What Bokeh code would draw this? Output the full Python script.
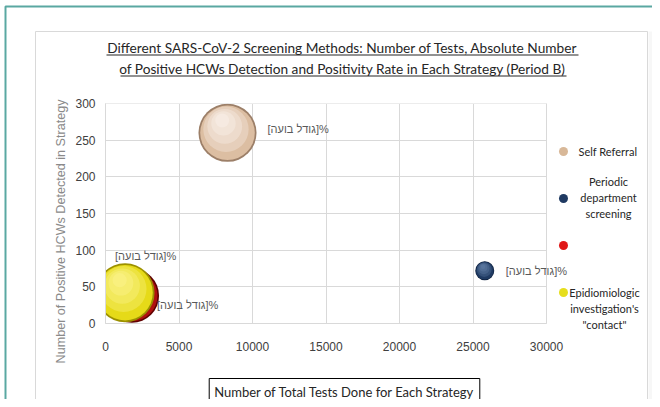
import math
from bokeh.plotting import figure
from bokeh.models import Range1d, FixedTicker, Label, BoxAnnotation, ColumnDataSource
from bokeh.embed import file_html
from bokeh.resources import INLINE

# ---------------- data ----------------
strategies = ["Self Referral", "Periodic department screening", "",
              "Epidiomiologic investigation's \"contact\""]
total_tests = [8300, 25800, 1800, 1330]          # x
positive_hcws = [260, 72, 38, 42]                # y
positivity_rate = [3.1, 0.33, 2.7, 3.2]          # bubble size (%)
x_ticks = [0, 5000, 10000, 15000, 20000, 25000, 30000]
y_ticks = [0, 50, 100, 150, 200, 250, 300]
bubble_label = "[גודל בועה]%"

title_lines = ["Different SARS-CoV-2 Screening Methods: Number of Tests, Absolute Number",
               "of Positive HCWs Detection and Positivity Rate in Each Strategy (Period B)"]
x_title = "Number of Total Tests Done for Each Strategy"
y_title = "Number of Positive HCWs Detected in Strategy"
legend_lines = [["Self Referral"], ["Periodic", "department", "screening"], [],
                ["Epidiomiologic", "investigation's", "\"contact\""]]

# ---------------- styles / layout ----------------
base_col = ["#dcbea2", "#1f3a62", "#b01010", "#e6da18"]
edge_col = ["#9c7f68", "#0d1f3c", "#600000", "#9c9000"]
high_col = ["#fffaf4", "#6a88b0", "#e85050", "#fffaa0"]
legend_colors = ["#d8b898", "#1f3a62", "#e01818", "#e6de1c"]
label_dx = [40, 21, -17, 32]
label_dy = [4, 0, 40, -12]
MAX_D = 59
TXT = "#262626"

W, H = 652, 399
FL, FR, FT, FB = 105, 546, 103, 323      # pixel box of the plotting area
XMAX, YMAX = x_ticks[-1], y_ticks[-1]
xpx = (FR - FL) / XMAX
ypx = (FB - FT) / YMAX

p = figure(width=W, height=H, output_backend="svg", toolbar_location=None,
           x_range=Range1d(-FL / xpx, XMAX + (W - FR) / xpx),
           y_range=Range1d(-(H - FB) / ypx, YMAX + FT / ypx),
           min_border=0, min_border_left=0, min_border_right=0,
           min_border_top=0, min_border_bottom=0,
           background_fill_color="white", border_fill_color="white")
p.outline_line_color = None


def canvas_box(**kw):
    kw.setdefault("fill_alpha", 1)
    kw.setdefault("line_alpha", 1)
    return BoxAnnotation(left_units="canvas", right_units="canvas",
                         top_units="canvas", bottom_units="canvas", **kw)


# frames (underlay)
p.add_layout(canvas_box(left=5, right=900, top=6, bottom=900, fill_color=None,
                        line_color="#5aa8a2", line_width=2, level="underlay"))
p.add_layout(canvas_box(left=648, right=900, top=31, bottom=900, fill_color="#f7f7f7",
                        line_color=None, level="underlay"))
p.add_layout(canvas_box(left=35, right=647, top=31, bottom=402, fill_color=None,
                        line_color="#d9d9d9", line_width=1, level="underlay"))

for ax, ticks, b in ((p.xaxis, x_ticks, (0, XMAX)), (p.yaxis, y_ticks, (0, YMAX))):
    ax.ticker = FixedTicker(ticks=ticks)
    ax.fixed_location = 0
    ax.bounds = b
    ax.major_tick_line_color = None
    ax.minor_tick_line_color = None
    ax.major_tick_out = 0
    ax.major_tick_in = 0
    ax.minor_tick_out = 0
    ax.axis_line_color = "#d9d9d9"
    ax.major_label_text_font = "Liberation Sans"
    ax.major_label_text_font_size = "12px"
    ax.major_label_text_color = "#404040"
p.xaxis.major_label_standoff = 18
p.yaxis.major_label_standoff = 10
p.xgrid.ticker = FixedTicker(ticks=x_ticks)
p.ygrid.ticker = FixedTicker(ticks=y_ticks)
p.xgrid.bounds = (0, XMAX)
p.xgrid.cross_bounds = (0, YMAX)
p.ygrid.bounds = (0, YMAX)
p.ygrid.cross_bounds = (0, XMAX)
for g in (p.xgrid, p.ygrid):
    g.grid_line_color = "#d9d9d9"
    g.grid_line_width = 1

# bubbles (3-D look: dark rim, body, highlight shifted to the upper left)
max_rate = max(positivity_rate)
hl_fracs = [0.78, 0.6, 0.42, 0.24]
for i in range(len(strategies)):
    d = MAX_D * math.sqrt(positivity_rate[i] / max_rate)
    x0, y0 = total_tests[i], positive_hcws[i]
    src = ColumnDataSource(dict(x=[x0], y=[y0], d=[d], d1=[d * 0.94]))
    p.scatter("x", "y", size="d", source=src, fill_color=edge_col[i], line_color=None)
    p.scatter("x", "y", size="d1", source=src, fill_color=base_col[i], line_color=None)
    hx = [x0 - (1 - f) * d * 0.12 / xpx for f in hl_fracs]
    hy = [y0 + (1 - f) * d * 0.28 / ypx for f in hl_fracs]
    hsrc = ColumnDataSource(dict(x=hx, y=hy, s=[d * f for f in hl_fracs]))
    p.scatter("x", "y", size="s", source=hsrc, fill_color=high_col[i],
              fill_alpha=0.3, line_color=None)

# emulate clipping of the plotting area
p.add_layout(BoxAnnotation(left=40, left_units="canvas", right=0, bottom=0, top=YMAX,
                           fill_color="white", fill_alpha=1, line_color=None, level="glyph"))
p.add_layout(BoxAnnotation(left=0, right=XMAX, bottom=YMAX, top=85, top_units="canvas",
                           fill_color="white", fill_alpha=1, line_color=None, level="glyph"))

# bubble labels
for i in range(len(strategies)):
    p.add_layout(Label(x=total_tests[i], y=positive_hcws[i], x_offset=label_dx[i],
                       y_offset=label_dy[i], text=bubble_label, text_align="left",
                       text_baseline="middle", text_font="Liberation Sans",
                       text_font_size="11px", text_color="#595959"))

# title
for line, yy in zip(title_lines, (47, 68)):
    p.add_layout(Label(x=342, y=yy, x_units="canvas", y_units="canvas", text=line,
                       text_align="center", text_baseline="middle", text_font="Lato",
                       text_font_size="13.7px", text_color=TXT))
p.add_layout(canvas_box(left=106, right=578, top=54, bottom=55, fill_color=TXT, line_color=None))
p.add_layout(canvas_box(left=120, right=566, top=75, bottom=76, fill_color=TXT, line_color=None))

# axis titles
p.add_layout(Label(x=60, y=231, x_units="canvas", y_units="canvas", text=y_title,
                   angle=math.pi / 2, text_align="center", text_baseline="middle",
                   text_font="Liberation Sans", text_font_size="12.6px", text_color="#8a8a8a"))
p.add_layout(Label(x=344, y=391, x_units="canvas", y_units="canvas", text=x_title,
                   text_align="center", text_baseline="middle", text_font="Lato",
                   text_font_size="13px", text_color=TXT, padding=5,
                   border_line_color="black", border_line_width=1,
                   background_fill_color="white"))

# legend
legend_y = [151, 198, 245, 292]
for i in range(len(strategies)):
    cy = legend_y[i]
    p.add_layout(canvas_box(left=558.5, right=567.5, top=cy - 4.5, bottom=cy + 4.5,
                            fill_color=legend_colors[i], line_color=None, border_radius=5))
    lines = legend_lines[i]
    if len(lines) == 1:
        p.add_layout(Label(x=578, y=cy, x_units="canvas", y_units="canvas", text=lines[0],
                           text_align="left", text_baseline="middle", text_font="Lato",
                           text_font_size="11px", text_color=TXT))
    elif lines:
        cx = 608 if i == 1 else 604
        y0 = cy - 17 if i == 1 else cy
        for k, t in enumerate(lines):
            p.add_layout(Label(x=cx, y=y0 + 16 * k, x_units="canvas", y_units="canvas",
                               text=t, text_align="center", text_baseline="middle",
                               text_font="Lato", text_font_size="11px", text_color=TXT))

open("out.html", "w").write(file_html(p, INLINE))
